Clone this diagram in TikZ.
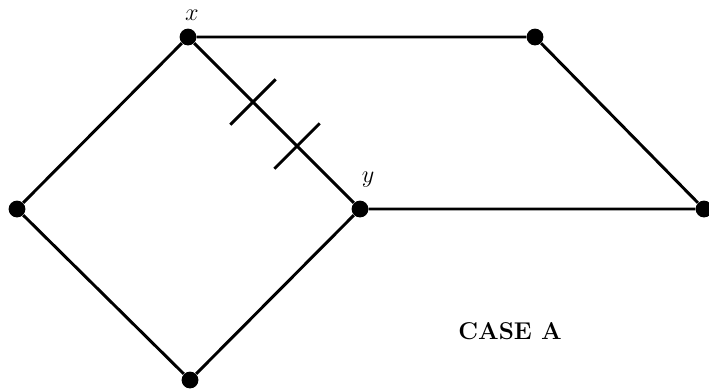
\documentclass[tikz,border=0pt]{standalone}
\usepackage{tikz}
\usetikzlibrary{calc}

\begin{document}
\begin{tikzpicture}[x=0.025cm,y=-0.025cm,
    dot/.style={circle, fill=black, inner sep=0pt, minimum size=0.42cm},
    edge/.style={line width=2.1pt},
    lab/.style={font=\LARGE, inner sep=0pt}]
    \useasboundingbox (0,0) rectangle (709,391);
    % vertices
    \foreach \n/\px/\py in {x/188/37, y/360/209, lt/17/209, bt/190/380, tr/535/37, rt/704/209}{
      \node[dot] (\n) at (\px,\py) {};
    }
    \draw[edge] (x) -- (tr) -- (rt) -- (y) -- (bt) -- (lt) -- (x) -- (y);
    % double tick on x--y
    \path (x.center) -- (y.center) coordinate[pos=0.378] (t1) coordinate[pos=0.634] (t2);
    \foreach \t in {t1,t2}{
      \draw[edge] ($(\t)!0.8cm!90:(y)$) -- ($(\t)!0.8cm!-90:(y)$);
    }
    \node[lab] (xlab) at (192,15) {$x$};
    \node[lab] (ylab) at (368,180) {$y$};
    \node[lab, font=\LARGE\bfseries] (case) at (510,331) {CASE A};
  \end{tikzpicture}
\end{document}
